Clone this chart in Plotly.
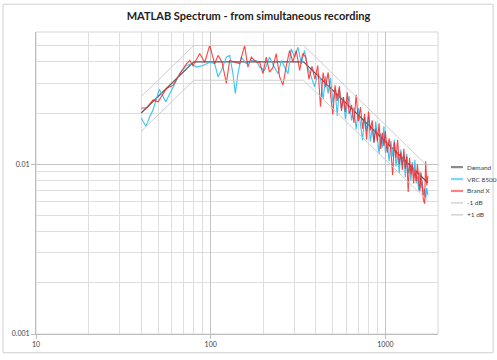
import plotly.graph_objects as go

# ---------------- data ----------------
demand_f = [40, 80, 340, 1750]
demand_v = [0.020, 0.040, 0.040, 0.00777]
minus_v = [0.0156, 0.0312, 0.0312, 0.00607]
plus_v = [0.0250, 0.0500, 0.0500, 0.00971]

vrc_f = [40, 42.6, 44.8, 46.8, 50.8, 53.2, 55.3, 58.3, 61, 66.5, 72.6, 77.5, 82.8, 90.4,
         98.7, 105.4, 110.2, 115.1, 122.9, 128.4, 134, 138.3, 143.2, 149.7, 160, 170.9,
         182.5, 190.5, 203.5, 217, 229, 243, 254, 265, 277, 289, 302, 316, 330, 344,
         359, 376, 393, 410, 425, 440, 455, 470, 485, 500, 515, 530, 545, 560, 575,
         590, 605, 620, 640, 660, 680, 700, 720, 740, 760, 780, 800, 820, 840, 860,
         880, 900, 920, 940, 960, 980, 1000, 1025, 1050, 1075, 1100, 1125, 1150, 1175,
         1200, 1225, 1250, 1275, 1300, 1325, 1350, 1375, 1400, 1425, 1450, 1475, 1500,
         1525, 1550, 1575, 1600, 1625, 1650, 1675, 1700, 1725, 1750]
vrc_v = [0.0187, 0.0167, 0.0190, 0.0209, 0.0276, 0.0250, 0.0233, 0.0260, 0.0285, 0.0341,
         0.0381, 0.0390, 0.0373, 0.0381, 0.0398, 0.0390, 0.0327, 0.0356, 0.0427, 0.0437,
         0.0341, 0.0261, 0.0341, 0.0427, 0.0390, 0.0408, 0.0408, 0.0373, 0.0356, 0.0427,
         0.0380, 0.0341, 0.0408, 0.0373, 0.0341, 0.0477, 0.0427, 0.0488, 0.0390, 0.0467,
         0.0373, 0.0327, 0.0285, 0.0341, 0.0320, 0.0241, 0.0329, 0.0260, 0.0322, 0.0231,
         0.0277, 0.0192, 0.0279, 0.0214, 0.0248, 0.0184, 0.0225, 0.0252, 0.0181, 0.0216,
         0.0160, 0.0214, 0.0170, 0.0138, 0.0188, 0.0157, 0.0190, 0.0136, 0.0162, 0.0134,
         0.0178, 0.0139, 0.0115, 0.0152, 0.0125, 0.0167, 0.0116, 0.0133, 0.0104, 0.0137,
         0.0111, 0.0139, 0.0097, 0.0116, 0.00884, 0.0122, 0.0100, 0.0112, 0.00837, 0.0115,
         0.00886, 0.00969, 0.00796, 0.0103, 0.00844, 0.0106, 0.00771, 0.00847, 0.00702,
         0.00906, 0.00723, 0.00795, 0.00659, 0.00715, 0.00624, 0.00725, 0.00660]

bx_f = [40, 42.9, 46.8, 50, 55.8, 61, 66.5, 72.6, 75.9, 79.2, 86.5, 92.4, 98.7, 105.4,
        110.2, 116, 122.9, 128.4, 137, 146.4, 156.4, 163.3, 170.9, 182.5, 190.5, 199, 208,
        217, 227, 237, 248, 259, 271, 283, 295, 309, 323, 336, 350, 365, 380, 395, 410,
        425, 440, 455, 470, 485, 500, 515, 530, 545, 560, 575, 590, 605, 620, 640, 660,
        680, 700, 720, 740, 760, 780, 800, 820, 840, 860, 880, 900, 920, 940, 960, 980,
        1000, 1025, 1050, 1075, 1100, 1125, 1150, 1175, 1200, 1225, 1250, 1275, 1300,
        1325, 1350, 1375, 1400, 1425, 1450, 1475, 1500, 1525, 1550, 1575, 1600, 1625,
        1650, 1675, 1700, 1725, 1750]
bx_v = [0.0214, 0.0214, 0.0239, 0.0233, 0.0279, 0.0292, 0.0341, 0.0390, 0.0408, 0.0380,
        0.0448, 0.0398, 0.0500, 0.0390, 0.0437, 0.0400, 0.0300, 0.0408, 0.0400, 0.0390,
        0.0500, 0.0373, 0.0427, 0.0398, 0.0400, 0.0341, 0.0427, 0.0348, 0.0370, 0.0448,
        0.0327, 0.0292, 0.0380, 0.0467, 0.0400, 0.0467, 0.0356, 0.0448, 0.0427, 0.0317,
        0.0376, 0.0317, 0.0381, 0.0218, 0.0346, 0.0284, 0.0347, 0.0247, 0.0196, 0.0291,
        0.0236, 0.0287, 0.0206, 0.0248, 0.0203, 0.0265, 0.0197, 0.0223, 0.0175, 0.0256,
        0.0179, 0.0217, 0.0162, 0.0197, 0.0140, 0.0204, 0.0158, 0.0181, 0.0134, 0.0162,
        0.0136, 0.0174, 0.0123, 0.0153, 0.0128, 0.0156, 0.0117, 0.0142, 0.0120, 0.00865,
        0.0135, 0.0109, 0.0139, 0.00997, 0.0117, 0.00925, 0.0123, 0.00941, 0.0111, 0.00685,
        0.0109, 0.00874, 0.0100, 0.00769, 0.00922, 0.00798, 0.00999, 0.00807, 0.00690,
        0.00893, 0.00711, 0.00618, 0.00585, 0.0104, 0.00749, 0.00855]

x_major = [10, 100, 1000]
x_labels = ["10", "100", "1000"]
y_major = [0.001, 0.01]
y_labels = ["0.001", "0.01"]
x_minor = [m * d for d in (10, 100) for m in range(2, 10)] + [2000]
y_minor = [m * d for d in (0.001, 0.01) for m in range(2, 10)]

series_names = ["Demand", "VRC 8500", "Brand X", "-1 dB", "+1 dB"]
series_colors = ["#5a5a5a", "#3cc4f2", "rgba(255,20,20,0.8)", "#cfcfcf", "#cfcfcf"]
legend_colors = ["#8c8c8c", "#7dd6f5", "#ff8080", "#d4d4d4", "#d4d4d4"]

# ---------------- figure ----------------
fig = go.Figure()
xs = [demand_f, vrc_f, bx_f, demand_f, demand_f]
ys = [demand_v, vrc_v, bx_v, minus_v, plus_v]
widths = [1.2, 1.1, 1.1, 1, 1]
for name, xv, yv, col, w in zip(series_names, xs, ys, series_colors, widths):
    fig.add_trace(go.Scatter(x=xv, y=yv, mode="lines", name=name, showlegend=False,
                             line=dict(color=col, width=w)))

font = "Lato, 'Liberation Sans', sans-serif"

# manual legend (compact Excel-style spacing)
shapes = [dict(type="rect", xref="paper", yref="paper",
               x0=-0.082, x1=1.137, y0=-0.062, y1=1.092,
               line=dict(color="#d0d0d0", width=1), layer="below"),
          dict(type="rect", xref="paper", yref="paper", x0=0, x1=1, y0=0, y1=1,
               line=dict(color="#d6d6d6", width=1), layer="below")]
annotations = []
for i, (name, col) in enumerate(zip(series_names, legend_colors)):
    yp = 0.5526 - i * 0.0395
    shapes.append(dict(type="line", xref="paper", yref="paper",
                       x0=1.0323, x1=1.0622, y0=yp, y1=yp,
                       line=dict(color=col, width=2.2 if i < 3 else 1.5)))
    annotations.append(dict(xref="paper", yref="paper", x=1.0672, y=yp,
                            xanchor="left", yanchor="middle", showarrow=False,
                            text=name, font=dict(family=font, size=6.5, color="#404040")))

fig.update_layout(
    width=497, height=360,
    margin=dict(l=36, r=59, t=32, b=24),
    paper_bgcolor="white", plot_bgcolor="white",
    title=dict(text="<b>MATLAB Spectrum - from simultaneous recording</b>",
               x=0.5, xanchor="center", y=0.955, yanchor="middle",
               font=dict(family=font, size=11, color="#222222")),
    font=dict(family=font, size=7, color="#404040"),
    showlegend=False,
    shapes=shapes,
    annotations=annotations,
)
fig.update_xaxes(type="log", range=[1, 3.30103], tickvals=x_major, ticktext=x_labels,
                 showgrid=True, gridcolor="#c4c4c4", gridwidth=1,
                 minor=dict(tickvals=x_minor, showgrid=True, gridcolor="#dedede", gridwidth=1),
                 showline=True, linecolor="#bdbdbd", linewidth=1, mirror=False,
                 ticks="outside", ticklen=4, tickcolor="#bdbdbd",
                 tickfont=dict(size=7, color="#404040"), zeroline=False)
fig.update_yaxes(type="log", range=[-3, -1.2218], tickvals=y_major, ticktext=y_labels,
                 showgrid=True, gridcolor="#c4c4c4", gridwidth=1,
                 minor=dict(tickvals=y_minor, showgrid=True, gridcolor="#dedede", gridwidth=1),
                 showline=True, linecolor="#bdbdbd", linewidth=1,
                 ticks="outside", ticklen=4, tickcolor="#bdbdbd",
                 tickfont=dict(size=7, color="#404040"), zeroline=False)

fig.write_html("out.html")
